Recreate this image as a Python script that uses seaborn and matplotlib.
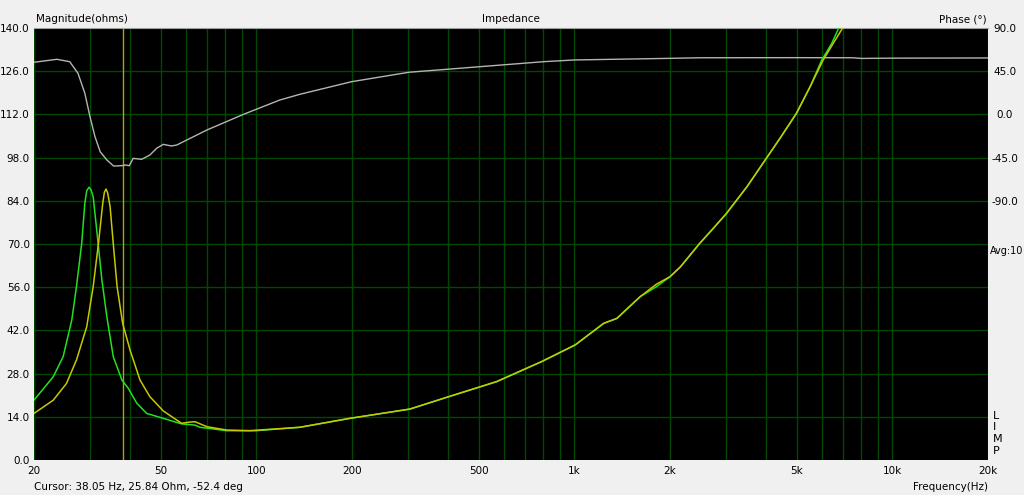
import numpy as np
import pandas as pd
import matplotlib
matplotlib.use('Agg')
import matplotlib.pyplot as plt
import seaborn as sns

# --- data (frequency in Hz) ---
green_freq = [20, 23.0, 24.7, 26.3, 27.2, 28.25, 28.9, 29.3, 29.8, 30.2, 30.7, 31.5, 32.7,
              33.9, 35.5, 37.8, 39.6, 42.1, 45.2, 51, 58.2, 64.2, 66.5, 80.7, 100, 137,
              197, 304, 408, 570, 790, 1007, 1238, 1362, 1610, 1814, 2000, 2157,
              2480, 2732, 3010, 3494, 4020, 4432, 5000, 5518, 6000, 6450, 6800, 7300]
green_ohm = [19.4, 27.0, 33.5, 45.4, 56.2, 70.2, 83.2, 87.3, 88.4, 87.6, 85.3, 74.5, 58.3,
             46.4, 33.5, 25.9, 23.2, 18.4, 15.1, 13.5, 11.7, 11.3, 10.6, 9.5, 9.5, 10.6,
             13.5, 16.5, 20.7, 25.4, 31.9, 37.3, 44.3, 45.9, 52.9, 56.2, 59.4, 62.6,
             70.2, 75.0, 79.9, 88.6, 97.8, 104.2, 112.4, 121.0, 129.6, 135.0, 140.2, 150]

yellow_freq = [20, 23.0, 25.3, 27.2, 29.3, 30.7, 31.9, 32.9, 33.3, 33.7, 34.1, 34.7, 35.5,
               36.5, 38.0, 40.1, 43.1, 46.3, 51, 58.2, 62, 64.2, 69.9, 80.7, 95.4, 137,
               197, 304, 408, 570, 790, 1007, 1238, 1362, 1610, 1814, 2000, 2157,
               2480, 2732, 3010, 3494, 4020, 4432, 5000, 5518, 6060, 6520, 6970, 7400]
yellow_ohm = [15.1, 19.4, 24.8, 32.4, 43.2, 56.2, 70.2, 83.2, 86.8, 87.8, 86.5, 82.1, 70.2,
              56.2, 44.3, 35.6, 25.9, 20.5, 15.9, 11.9, 12.3, 12.4, 10.8, 9.7, 9.5, 10.6,
              13.5, 16.5, 20.7, 25.4, 31.9, 37.3, 44.3, 45.9, 52.9, 57.0, 59.4, 62.6,
              70.2, 75.0, 79.9, 88.6, 97.8, 104.2, 112.4, 121.0, 129.6, 135.0, 139.9, 148]

phase_freq = [20, 23.6, 25.9, 27.5, 28.9, 30.0, 31.1, 32.3, 33.9, 35.6, 37.8, 38.7,
              39.9, 41.0, 43.6, 46.3, 48.6, 51.0, 54.1, 56.2, 69.9, 91.2, 118.6, 137,
              199.6, 302, 505, 800, 1000, 2000, 2500, 5000, 7500, 8000, 10000, 20000]
phase_deg = [54.3, 57.4, 54.9, 42.8, 22.0, -2.4, -23.2, -38.9, -47.5, -53.8, -53.4, -52.7,
             -53.4, -45.8, -46.8, -42.3, -35.3, -31.2, -32.9, -31.9, -16.3, 0.1, 15.0, 20.9,
             34.1, 43.9, 49.7, 54.9, 56.7, 58.4, 59.0, 59.1, 59.0, 58.3, 58.6, 58.8]

cursor_freq = 38.05
x_ticks = [20, 50, 100, 200, 500, 1000, 2000, 5000, 10000, 20000]
x_tick_labels = ['20', '50', '100', '200', '500', '1k', '2k', '5k', '10k', '20k']
y_ticks = [0, 14, 28, 42, 56, 70, 84, 98, 112, 126, 140]
phase_ticks = [-90, -45, 0, 45, 90]

# --- style ---
sns.set_style('dark', rc={'axes.facecolor': 'black', 'figure.facecolor': '#f0f0f0',
                          'text.color': 'black', 'xtick.color': 'black', 'ytick.color': 'black'})
plt.rcParams['font.family'] = ['DejaVu Sans']
FS = 7.5
GRID = '#004800'

fig = plt.figure(figsize=(10.24, 4.95), dpi=100)
ax = fig.add_axes([34 / 1024, 35 / 495, 954 / 1024, 432 / 495])
ax.set_xscale('log')

ax2 = ax.twinx()
ax2.set_xscale('log')

# grid lines at every 1..9 step of each decade (drawn on the back axes)
minor = [m * 10 ** d for d in range(1, 5) for m in range(1, 10)]
minor = [v for v in minor if 20 <= v <= 20000]
for v in minor:
    ax2.axvline(v, color=GRID, lw=1, zorder=1)
for v in phase_ticks[:-1]:
    ax2.axhline(v, color=GRID, lw=1, zorder=1)
for v in [-135, -180, -225, -270, -315]:
    ax2.axhline(v, color=GRID, lw=1, zorder=1)
ax2.axvline(cursor_freq, color='#a8a800', lw=1, zorder=2)

df_phase = pd.DataFrame({'f': phase_freq, 'deg': phase_deg})
sns.lineplot(data=df_phase, x='f', y='deg', ax=ax2, color='#b4b4b4', lw=1, zorder=3)

df_g = pd.DataFrame({'f': green_freq, 'ohm': green_ohm})
df_y = pd.DataFrame({'f': yellow_freq, 'ohm': yellow_ohm})
sns.lineplot(data=df_g, x='f', y='ohm', ax=ax, color='#22e022', lw=1.1, zorder=4)
sns.lineplot(data=df_y, x='f', y='ohm', ax=ax, color='#c8c800', lw=1.1, zorder=5)

ax.set_zorder(ax2.get_zorder() + 1)
ax.patch.set_visible(False)
ax2.patch.set_visible(True)
ax2.patch.set_facecolor('black')

ax.set_xlim(20, 20000)
ax.set_ylim(0, 140)
ax2.set_ylim(-360, 90)
ax2.set_xlim(20, 20000)

ax.set_xticks(x_ticks)
ax.set_xticklabels(x_tick_labels, fontsize=FS)
ax.xaxis.set_minor_locator(matplotlib.ticker.NullLocator())
ax.set_yticks(y_ticks)
ax.set_yticklabels([f'{v:.1f}' for v in y_ticks], fontsize=FS)
ax.tick_params(length=0, pad=3, colors='black')
ax.tick_params(axis='x', pad=4)
ax.set_xlabel('')
ax.set_ylabel('')
ax.grid(False)

ax2.set_yticks(phase_ticks)
ax2.set_yticklabels([f'{v:.1f}' for v in phase_ticks], fontsize=FS)
for lbl in ax2.get_yticklabels():
    lbl.set_horizontalalignment('center')
ax2.tick_params(length=0, pad=12, colors='black')
ax2.xaxis.set_minor_locator(matplotlib.ticker.NullLocator())
ax2.set_ylabel('')
ax2.set_xlabel('')
ax2.grid(False)

for a in (ax, ax2):
    for s in a.spines.values():
        s.set_visible(False)
ax.spines['top'].set_visible(True)
ax.spines['top'].set_color('#a0a0a0')

# --- texts ---
fig.text(36 / 1024, 1 - 19 / 495, 'Magnitude(ohms)', fontsize=FS, va='center', ha='left')
fig.text(511 / 1024, 1 - 19 / 495, 'Impedance', fontsize=FS, va='center', ha='center')
fig.text(987 / 1024, 1 - 19 / 495, 'Phase (°)', fontsize=FS, va='center', ha='right')
fig.text(990 / 1024, 1 - 251 / 495, 'Avg:10', fontsize=7, va='center', ha='left')
for i, ch in enumerate('LIMP'):
    fig.text(993 / 1024, 1 - (416 + i * 11.5) / 495, ch, fontsize=FS + 0.5, va='center', ha='left')
fig.text(34 / 1024, 1 - 487 / 495, 'Cursor: 38.05 Hz, 25.84 Ohm, -52.4 deg',
         fontsize=FS, va='center', ha='left')
fig.text(988 / 1024, 1 - 487 / 495, 'Frequency(Hz)', fontsize=FS, va='center', ha='right')

fig.savefig('out.png', dpi=100, facecolor='#f0f0f0')
